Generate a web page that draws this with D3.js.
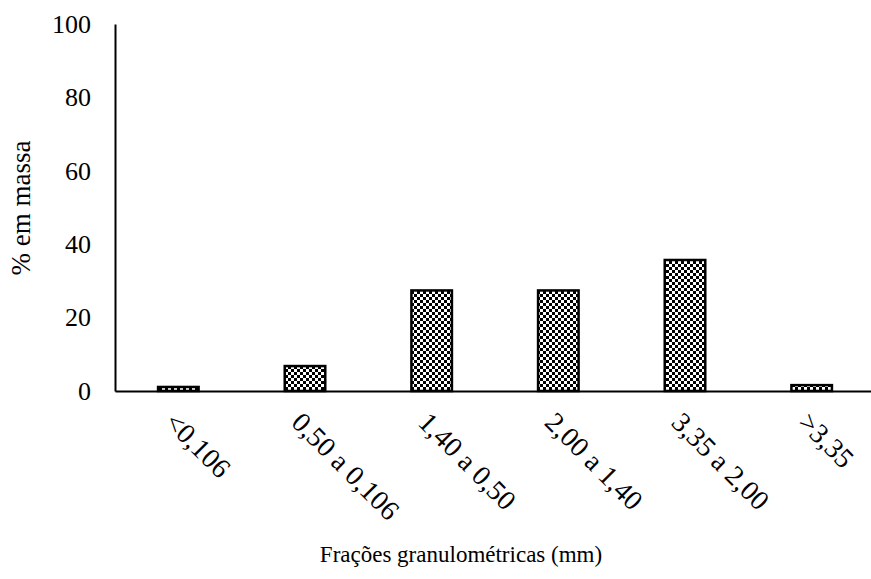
<!DOCTYPE html>
<html>
<head>
<meta charset="utf-8">
<script src="https://cdn.jsdelivr.net/npm/d3@7"></script>
<style>
  body { margin: 0; background: #fff; }
</style>
</head>
<body>
<svg id="chart" width="871" height="579"></svg>
<script>
// Granulometric fractions (mm) and their mass share (%)
const categories = ["<0,106", "0,50 a 0,106", "1,40 a 0,50", "2,00 a 1,40", "3,35 a 2,00", ">3,35"];
const massPercent = [1.1, 6.8, 27.4, 27.4, 35.7, 1.6];
const yTicks = [0, 20, 40, 60, 80, 100];

const FONT = "Liberation Serif, Times New Roman, serif";

const svg = d3.select("#chart");
const margin = { left: 115, right: -4, top: 24, bottom: 188 };
const W = 871, H = 579;

const x = d3.scaleBand()
  .domain(categories)
  .range([margin.left, W - margin.right])
  .paddingInner(0.68)
  .paddingOuter(0.34);

const y = d3.scaleLinear()
  .domain([0, 100])
  .range([H - margin.bottom, margin.top]);

// Checkerboard fill
const defs = svg.append("defs");
const pat = defs.append("pattern")
  .attr("id", "checker")
  .attr("patternUnits", "userSpaceOnUse")
  .attr("width", 6).attr("height", 6);
pat.append("rect").attr("width", 6).attr("height", 6).attr("fill", "#fff");
pat.append("rect").attr("x", 0).attr("y", 0).attr("width", 3).attr("height", 3).attr("fill", "#000");
pat.append("rect").attr("x", 3).attr("y", 3).attr("width", 3).attr("height", 3).attr("fill", "#000");

// Bars
svg.append("g").selectAll("rect")
  .data(categories)
  .join("rect")
  .attr("x", d => x(d))
  .attr("width", x.bandwidth())
  .attr("y", (d, i) => y(massPercent[i]))
  .attr("height", (d, i) => y(0) - y(massPercent[i]))
  .attr("fill", "url(#checker)")
  .attr("stroke", "#000")
  .attr("stroke-width", 2.5);

// Y axis: line and labels, no tick marks
const yAxis = svg.append("g")
  .attr("transform", `translate(${margin.left},0)`)
  .call(d3.axisLeft(y).tickValues(yTicks).tickSize(0).tickPadding(24).tickFormat(d3.format("d")))
  .attr("font-family", FONT)
  .attr("font-size", 26);
yAxis.select(".domain").attr("stroke", "#000").attr("stroke-width", 2);
yAxis.selectAll("text").attr("fill", "#000");

// X axis: line and rotated labels
const xAxis = svg.append("g")
  .attr("transform", `translate(0,${y(0)})`)
  .call(d3.axisBottom(x).tickSize(0).tickSizeOuter(0))
  .attr("font-family", FONT)
  .attr("font-size", 28);
xAxis.select(".domain").attr("stroke", "#000").attr("stroke-width", 2);
xAxis.selectAll("text")
  .attr("fill", "#000")
  .attr("text-anchor", "start")
  .attr("dy", null)
  .attr("y", 0)
  .attr("transform", "translate(-15,33) rotate(45)");

// Axis titles
svg.append("text")
  .attr("x", 461).attr("y", 562)
  .attr("text-anchor", "middle")
  .attr("font-family", FONT)
  .attr("font-size", 23)
  .text("Frações granulométricas (mm)");

svg.append("text")
  .attr("transform", "translate(30,208) rotate(-90)")
  .attr("text-anchor", "middle")
  .attr("font-family", FONT)
  .attr("font-size", 27)
  .text("% em massa");
</script>
</body>
</html>
